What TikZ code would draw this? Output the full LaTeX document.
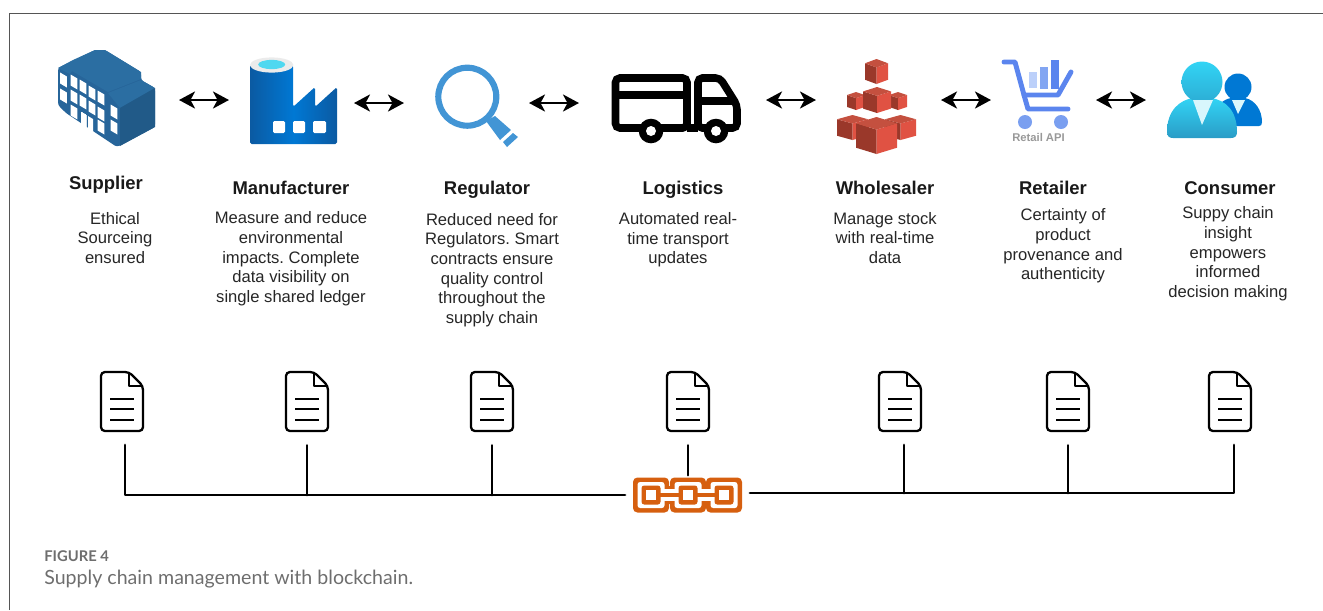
\documentclass[tikz,border=0pt]{standalone}
\usepackage{fontspec}
\setmainfont{Liberation Sans}
\newfontfamily\capfont{Lato}
\usetikzlibrary{arrows.meta}
\definecolor{framegray}{HTML}{555555}
\definecolor{capgray}{HTML}{6E6E6E}
\definecolor{bldtop}{HTML}{2B6EA2}
\definecolor{bldfront}{HTML}{27659A}
\definecolor{bldside}{HTML}{215A88}
\definecolor{azdark}{HTML}{0B5AA2}
\definecolor{azmid}{HTML}{0078D4}
\definecolor{azcyan}{HTML}{4FD8F0}
\definecolor{lensblue}{HTML}{4295D5}
\definecolor{cubedark}{HTML}{9A382A}
\definecolor{cubelight}{HTML}{E05243}
\definecolor{cubetop}{HTML}{C4503F}
\definecolor{cartblue}{HTML}{5B85EE}
\definecolor{cartmid}{HTML}{82A5F2}
\definecolor{cartpale}{HTML}{BCD0FA}
\definecolor{cartwheel}{HTML}{7A9FF0}
\definecolor{userbright}{HTML}{32D4F5}
\definecolor{userdeep}{HTML}{2A9CC6}
\definecolor{chainorange}{HTML}{D65F0F}
\tikzset{
  iconbox/.style={minimum width=#1*0.02cm, minimum height=2cm, inner sep=0pt, outer sep=0pt},
  biarrow/.style={{Stealth[length=0.32cm,width=0.34cm,inset=0.09cm]}-{Stealth[length=0.32cm,width=0.34cm,inset=0.09cm]}, line width=1.6pt},
  titletext/.style={font=\fontsize{10.5}{12}\selectfont\bfseries, text=black!90, anchor=base},
  bodytext/.style={font=\frenchspacing\fontsize{9.45}{11.2}\selectfont, align=center, text=black!85},
  railline/.style={line width=1.6pt, line cap=round},
  docicon/.pic={
    \draw [line width=1.3pt, rounded corners=2.2pt, fill=white] (7,-29.5) -- (-21,-29.5) -- (-21,29.5) -- (21,29.5) -- (21,-15.5) -- cycle;
    \draw [line width=1.3pt, line join=round] (7,-29.5) -- (7,-15.5) -- (21,-15.5);
    \foreach \ly in {-2.5, 7.5, 18.5}
      \draw [line width=1.3pt] (-12,\ly) -- (12,\ly);
  },
  chainicon/.pic={
    \fill [chainorange, rounded corners=2pt] (-37,-9) rectangle (36,9);
    \foreach \cx in {-37, 0, 36}
      \fill [chainorange, rounded corners=2.5pt] (\cx-18,-17.5) rectangle (\cx+18,17.5);
    \fill [white] (-37,-6) rectangle (36,6);
    \foreach \cx in {-37, 0, 36}
      \fill [white, rounded corners=1.5pt] (\cx-13.5,-13) rectangle (\cx+13.5,13);
    \fill [chainorange] (-37,-1.8) rectangle (36,1.8);
    \foreach \cx in {-37, 0, 36}
      \fill [chainorange, rounded corners=1.5pt] (\cx-9.5,-9.5) rectangle (\cx+9.5,9.5);
    \foreach \cx in {-37, 0, 36}
      \fill [white] (\cx-5,-5) rectangle (\cx+5,5);
  }
}
\newcommand{\bldwin}[2]{\fill [white] (#1-3.4,#2-7.5) -- (#1+3.4,#2-3.5) -- (#1+3.4,#2+7.5) -- (#1-3.4,#2+3.5) -- cycle;}
\newcommand{\redcube}[4]{%
  \fill [cubedark] (#1,#3+0.17*#4-0.17*#3) -- ({(#1+#2)/2},#3+0.34*#4-0.34*#3) -- ({(#1+#2)/2},#4) -- (#1,#4-0.17*#4+0.17*#3) -- cycle;
  \fill [cubelight] (#2,#3+0.17*#4-0.17*#3) -- ({(#1+#2)/2},#3+0.34*#4-0.34*#3) -- ({(#1+#2)/2},#4) -- (#2,#4-0.17*#4+0.17*#3) -- cycle;
  \fill [cubetop] (#1,#3+0.17*#4-0.17*#3) -- ({(#1+#2)/2},#3) -- (#2,#3+0.17*#4-0.17*#3) -- ({(#1+#2)/2},#3+0.34*#4-0.34*#3) -- cycle;
}

\begin{document}
\begin{tikzpicture}[x=0.02cm, y=-0.02cm]
  \useasboundingbox (0,0) rectangle (1323,610);
  \draw [framegray, line width=0.75pt] (9.5,610) -- (9.5,13.5) -- (1323,13.5);

  \node [iconbox=146] (supplier) at (106,100) {};
  \node [iconbox=125] (manufacturer) at (291.5,100) {};
  \node [iconbox=125] (regulator) at (466.5,100) {};
  \node [iconbox=187] (logistics) at (672.5,100) {};
  \node [iconbox=125] (wholesaler) at (878.5,100) {};
  \node [iconbox=105] (retailer) at (1043.5,100) {};
  \node [iconbox=136] (consumer) at (1214,100) {};

  \foreach \from/\to/\ay in {supplier/manufacturer/100, manufacturer/regulator/103, regulator/logistics/103, logistics/wholesaler/100, wholesaler/retailer/100, retailer/consumer/100}
    \draw [biarrow] (\from.east |- 0,\ay) -- (\to.west |- 0,\ay);

  % supplier
  \fill [bldfront, rounded corners=1.5pt] (58,68) -- (95,50) -- (105,50) -- (141,72) -- (141,80) -- (155,88) -- (155,127) -- (117,147) -- (66,113) -- (58,105) -- cycle;
  \fill [bldtop] (58,68) -- (73,60) -- (95,50) -- (105,50) -- (141,72) -- (141,79) -- (108,92) -- (72,71) -- (70,74) -- cycle;
  \fill [bldtop] (108,93) -- (141,80) -- (155,88) -- (120,108) -- cycle;
  \fill [bldside] (120,108) -- (155,88) -- (155,127) -- (120,146) -- cycle;
  \foreach \wx/\wy in {63.5/80, 74/82, 83/87, 92/93, 101/98, 114/112, 63.5/96, 74/97, 83/102, 92/108, 101/114, 114/127, 74/112, 101/127}
    \bldwin{\wx}{\wy}
  \fill [white] (81,112) -- (86,115) -- (86,130) -- (81,127) -- cycle;
  \fill [white] (88,116) -- (93,119) -- (93,134) -- (88,131) -- cycle;

  % manufacturer
  \shade [left color=azdark, right color=azdark, middle color=azmid, rounded corners=1pt] (250,65) -- (293,65) -- (293,107) -- (315,87) -- (315,107) -- (337,87) -- (337,144) -- (250,144) -- cycle;
  \fill [black!8] (271.7,65) ellipse [x radius=21.7, y radius=7.6];
  \fill [azcyan] (271.7,64.5) ellipse [x radius=13.5, y radius=4.6];
  \fill [white, rounded corners=0.8pt] (273,121) rectangle (285,133);
  \fill [white, rounded corners=0.8pt] (293,121) rectangle (305,133);
  \fill [white, rounded corners=0.8pt] (313,121) rectangle (326,133);

  % regulator
  \draw [lensblue, line width=3.5pt] (467.3,96.7) circle (29);
  \fill [lensblue] (486,121) -- (495,116) -- (511,130) -- (500,140) -- cycle;
  \fill [lensblue] (503,142) -- (513,133) -- (518,137) -- (507,147) -- cycle;

  % logistics
  \draw [line width=4.3pt, rounded corners=2.5pt] (615.5,78) rectangle (687,128);
  \draw [line width=4.3pt] (615.5,95) -- (687,95);
  \draw [line width=4.3pt, rounded corners=2.5pt] (698,128) -- (698,78) -- (720,78) -- (737,105) -- (737,128) -- cycle;
  \draw [line width=4.3pt] (698,101) -- (735,101);
  \draw [line width=4.3pt] (687,128) -- (698,128);
  \foreach \wx in {651, 716} {
    \fill [black] (\wx,131) circle (12.3);
    \fill [white] (\wx,131) circle (5);
  }

  % wholesaler
  \redcube{865}{888}{59}{84}
  \redcube{847}{865}{92}{110}
  \redcube{889}{907}{92}{110}
  \redcube{863}{891}{87}{113}
  \redcube{837}{868}{115}{140}
  \redcube{885}{916}{115}{140}
  \redcube{856}{897}{117}{154}

  % retailer
  \fill [cartpale] (1029,72) rectangle (1037,88);
  \fill [cartmid] (1040,67) rectangle (1048,89);
  \fill [cartblue] (1051,60) rectangle (1059,89);
  \draw [cartblue, line width=2.8pt, line cap=round, line join=round] (1004,62) -- (1015,62) -- (1024,95) -- (1028,109) -- (1068,109);
  \draw [cartblue, line width=2.8pt, line cap=round, line join=round] (1024,95) -- (1058,95) -- (1071,72);
  \fill [cartwheel] (1025,122) circle (7);
  \fill [cartwheel] (1061,122) circle (7);
  \node [font=\fontsize{6.4}{7}\selectfont\bfseries, text=black!40, inner sep=0pt] (retailapi) at (1038.5,137) {Retail API};

  % consumer
  \fill [azmid] (1238,87) circle (13.5);
  \fill [azmid] (1222,126) -- (1222,102) .. controls (1226,99) and (1230,98) .. (1232,98) -- (1245,98) .. controls (1255,100) and (1262,110) .. (1262,122) .. controls (1262,125) and (1261,126) .. (1259,126) -- cycle;
  \fill [white!80!azcyan] (1232,100) -- (1245,100) -- (1238,114) -- cycle;
  \shade [top color=userbright, bottom color=userdeep] (1167,132) .. controls (1167,110) and (1180,100) .. (1193,98) -- (1211,98) .. controls (1225,100) and (1237,110) .. (1237,132) .. controls (1237,136) and (1235,138) .. (1231,138) -- (1173,138) .. controls (1169,138) and (1167,136) .. (1167,132) -- cycle;
  \shade [top color=userbright, bottom color=userdeep!70!userbright] (1202,82) circle (20.5);
  \fill [white!78!azcyan] (1193,100) -- (1213,100) -- (1202,125) -- cycle;

  \node [titletext] (supplierlabel) at (106,189.5) {Supplier};
  \node [titletext] (manufacturerlabel) at (291,194.5) {Manufacturer};
  \node [titletext] (regulatorlabel) at (487,194.5) {Regulator};
  \node [titletext] (logisticslabel) at (683,194.5) {Logistics};
  \node [titletext] (wholesalerlabel) at (885,194.5) {Wholesaler};
  \node [titletext] (retailerlabel) at (1053,194.5) {Retailer};
  \node [titletext] (consumerlabel) at (1230,194.5) {Consumer};

  \node [bodytext] (supplierbody) at (115,238) {Ethical\\Sourceing\\ensured};
  \node [bodytext] (manufacturerbody) at (291,259) {Measure and reduce\\environmental\\impacts. Complete\\data visibility on\\single shared ledger};
  \node [bodytext] (regulatorbody) at (492,270) {Reduced need for\\Regulators. Smart\\contracts ensure\\quality control\\throughout the\\supply chain};
  \node [bodytext] (logisticsbody) at (678,240) {Automated real-\\time transport\\updates};
  \node [bodytext] (wholesalerbody) at (885,238) {Manage stock\\with real-time\\data};
  \node [bodytext] (retailerbody) at (1063,246) {Certainty of\\product\\provenance and\\authenticity};
  \node [bodytext] (consumerbody) at (1228,254) {Suppy chain\\insight\\empowers\\informed\\decision making};

  \node [minimum width=2.16cm, minimum height=0.7cm, inner sep=0pt] (chain) at (688,495) {};
  \pic at (chain) {chainicon};

  \foreach \dname/\dx in {doca/122, docb/307, docc/492, docd/688, doce/900, docf/1068, docg/1230} {
    \node [minimum width=0.84cm, minimum height=1.18cm, inner sep=0pt] (\dname) at (\dx,401.5) {};
    \pic at (\dname) {docicon};
  }

  \coordinate (stema) at (125,445);
  \coordinate (stemg) at (1234,445);
  \coordinate (steme) at (904,445);
  \coordinate (chainleft) at (625,495);
  \coordinate (chainright) at (750,493);
  \coordinate (raila) at (125,495);
  \coordinate (railb) at (307,495);
  \coordinate (railc) at (492,495);
  \coordinate (raile) at (904,493);
  \coordinate (railf) at (1068,493);
  \draw [railline, line join=round] (stema) |- (chainleft);
  \draw [railline, line join=round] (chainright) -| (stemg);
  \draw [railline, shorten <=0.28cm] (docb.south) -- (railb);
  \draw [railline, shorten <=0.28cm] (docc.south) -- (railc);
  \draw [railline, shorten <=0.28cm, shorten >=0.04cm] (docd.south) -- (chain.north);
  \draw [railline] (steme) -- (raile);
  \draw [railline, shorten <=0.28cm] (docf.south) -- (railf);

  \node [anchor=west, inner sep=0pt, font=\capfont\fontsize{8.4}{10}\selectfont\bfseries, text=capgray] (figlabel) at (44,556) {FIGURE 4};
  \node [anchor=west, inner sep=0pt, font=\capfont\fontsize{11.15}{13}\selectfont, text=capgray] (figcaption) at (44,579) {Supply chain management with blockchain.};
\end{tikzpicture}
\end{document}
